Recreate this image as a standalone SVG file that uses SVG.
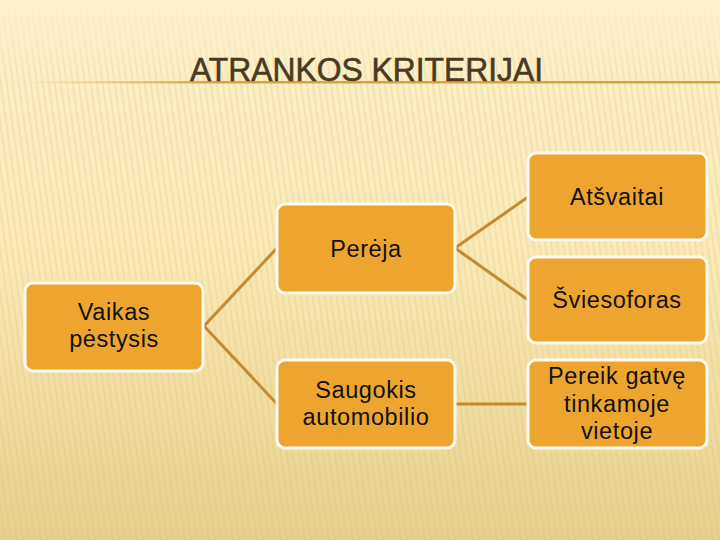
<svg xmlns="http://www.w3.org/2000/svg" width="720" height="540" viewBox="0 0 720 540">
  <defs>
    <linearGradient id="bg" x1="0" y1="0" x2="0" y2="1">
      <stop offset="0" stop-color="#fdf2cc"/>
      <stop offset="0.45" stop-color="#fbeab8"/>
      <stop offset="1" stop-color="#e9d08e"/>
    </linearGradient>
    <linearGradient id="rule" gradientUnits="userSpaceOnUse" x1="35" y1="0" x2="720" y2="0">
      <stop offset="0" stop-color="#e8b860" stop-opacity="0.1"/>
      <stop offset="0.25" stop-color="#e0a040"/>
      <stop offset="1" stop-color="#e0a040"/>
    </linearGradient>
    <pattern id="stripes" width="6" height="540" patternUnits="userSpaceOnUse" patternTransform="skewX(8)">
      <rect x="0" y="0" width="2" height="540" fill="#d9b868" opacity="0.2"/>
    </pattern>
    <linearGradient id="stripeMask" x1="0" y1="0" x2="0" y2="1">
      <stop offset="0" stop-color="#fff" stop-opacity="0"/>
      <stop offset="0.15" stop-color="#fff" stop-opacity="1"/>
      <stop offset="1" stop-color="#fff" stop-opacity="1"/>
    </linearGradient>
    <mask id="m">
      <rect width="720" height="540" fill="url(#stripeMask)"/>
    </mask>
  </defs>
  <style>
    .box rect { fill: #eea530; stroke: #fffaf0; stroke-width: 3; }
    .box text { font-family: "Liberation Sans", Arial, sans-serif; font-size: 23.5px; letter-spacing: 0.6px; fill: #111; text-anchor: middle; }
    .conn line { stroke: #c48a32; stroke-width: 3; stroke-linecap: round; }
  </style>
  <rect width="720" height="540" fill="url(#bg)"/>
  <rect width="720" height="540" fill="url(#stripes)" mask="url(#m)"/>

  <g id="title">
    <rect x="35" y="81" width="685" height="2.5" fill="url(#rule)"/>
    <text x="190" y="81" font-family="Liberation Sans, Arial, sans-serif" font-size="32.5" fill="#4a3a22" stroke="#4a3a22" stroke-width="0.6" textLength="353" lengthAdjust="spacingAndGlyphs">ATRANKOS KRITERIJAI</text>
  </g>

  <g class="conn" id="connectors">
    <line x1="204" y1="326" x2="277" y2="248"/>
    <line x1="204" y1="326" x2="277" y2="404"/>
    <line x1="455" y1="248" x2="528" y2="197"/>
    <line x1="455" y1="248" x2="528" y2="300"/>
    <line x1="455" y1="404" x2="528" y2="404"/>
  </g>

  <g class="box" id="vaikas">
    <rect x="25" y="283" width="178" height="88" rx="8"/>
    <text x="114" y="320">Vaikas</text>
    <text x="114" y="347">pėstysis</text>
  </g>
  <g class="box" id="pereja">
    <rect x="277" y="204" width="178" height="89" rx="8"/>
    <text x="366" y="257">Perėja</text>
  </g>
  <g class="box" id="saugokis">
    <rect x="277" y="360" width="178" height="88" rx="8"/>
    <text x="366" y="398">Saugokis</text>
    <text x="366" y="425">automobilio</text>
  </g>
  <g class="box" id="atsvaitai">
    <rect x="528" y="153" width="179" height="87" rx="8"/>
    <text x="617" y="205">Atšvaitai</text>
  </g>
  <g class="box" id="sviesoforas">
    <rect x="528" y="257" width="179" height="86" rx="8"/>
    <text x="617" y="308">Šviesoforas</text>
  </g>
  <g class="box" id="pereik">
    <rect x="528" y="360" width="179" height="88" rx="8"/>
    <text x="617" y="384">Pereik gatvę</text>
    <text x="617" y="412">tinkamoje</text>
    <text x="617" y="439">vietoje</text>
  </g>
</svg>
